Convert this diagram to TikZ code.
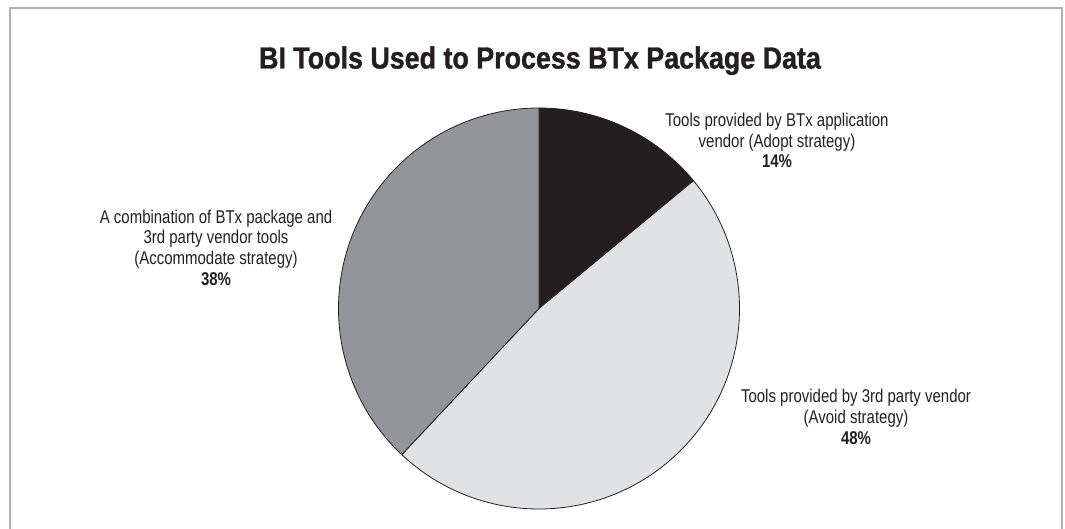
\documentclass[tikz,border=0pt]{standalone}
\usepackage{fontspec}
\setmainfont{Liberation Sans}
\newfontfamily\condfont[FakeStretch=0.81]{Liberation Sans}
\newfontfamily\condbold[FakeStretch=0.81]{Liberation Sans Bold}
\newfontfamily\titlefont[FakeStretch=0.88, FakeBold=1.2]{Liberation Sans Bold}
\definecolor{inkdark}{HTML}{231F20}
\definecolor{slicemid}{HTML}{939598}
\definecolor{slicelight}{HTML}{E1E2E4}
\definecolor{framegray}{HTML}{B1B1B3}
\tikzset{
  charttitle/.style={font=\titlefont\fontsize{30.5}{34}\selectfont, text=inkdark, inner sep=0pt, anchor=base},
  % multi-line labels are placed by the baseline of their last line
  slicelabel/.style={font=\condfont\fontsize{18.5}{20.8}\selectfont, text=inkdark, align=center, inner sep=0pt, anchor=base},
  slice/.style={draw=inkdark, line width=0.8pt, line join=round},
}
\newcommand{\pct}[1]{{\condbold #1}}
\begin{document}
\begin{tikzpicture}[x=1pt, y=-1pt]
  \useasboundingbox (0,0) rectangle (1065,529);
  % frame, open at the bottom
  \draw[framegray, line width=2pt] (9.5,535) -- (9.5,8) -- (1061.5,8) -- (1061.5,535);
  % title
  \node[charttitle] (title) at (540,68.5) {BI Tools Used to Process BTx Package Data};
  % pie chart: 14% / 48% / 38%, starting at 12 o'clock, clockwise
  \begin{scope}[shift={(539,308.5)}, y=1pt]
    \coordinate (pc) at (0,0);
    \filldraw[slice, fill=inkdark] (pc) -- (39.6:200.5) arc[start angle=39.6, end angle=90, radius=200.5] -- cycle;
    \filldraw[slice, fill=slicelight] (pc) -- (-133.2:200.5) arc[start angle=-133.2, end angle=39.6, radius=200.5] -- cycle;
    \filldraw[slice, fill=slicemid] (pc) -- (90:200.5) arc[start angle=90, end angle=226.8, radius=200.5] -- cycle;
  \end{scope}
  % slice labels
  \node[slicelabel] (adopt) at (777,168) {Tools provided by BTx application\\vendor (Adopt strategy)\\\pct{14\%}};
  \node[slicelabel] (accommodate) at (216,285.5) {A combination of BTx package and\\3rd party vendor tools\\(Accommodate strategy)\\\pct{38\%}};
  \node[slicelabel] (avoid) at (856,444.5) {Tools provided by 3rd party vendor\\(Avoid strategy)\\\pct{48\%}};
\end{tikzpicture}
\end{document}
